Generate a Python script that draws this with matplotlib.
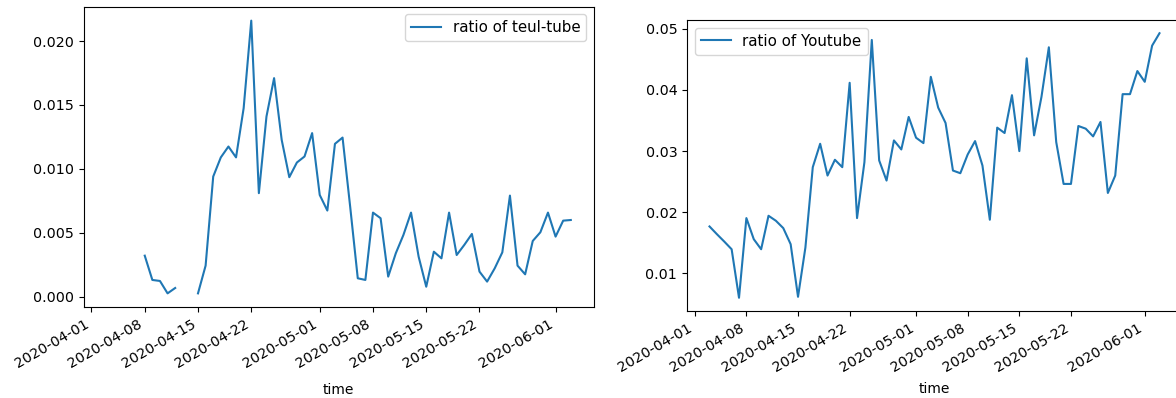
import numpy as np
import pandas as pd
import matplotlib
matplotlib.use("Agg")
import matplotlib.pyplot as plt
import matplotlib.dates as mdates

dates = pd.date_range("2020-04-03", "2020-06-03", freq="D")

teul_tube = [
    np.nan, np.nan, np.nan, np.nan, np.nan,                  # 04-03..04-07
    0.00321, 0.00131, 0.00123, 0.00026, 0.00068,             # 04-08..04-12
    np.nan, np.nan,                                          # 04-13..04-14
    0.00026, 0.00243, 0.0094, 0.0109, 0.01175, 0.0109,       # 04-15..04-20
    0.01475, 0.0216, 0.0081, 0.0141, 0.0171, 0.01227,        # 04-21..04-26
    0.00935, 0.0105, 0.01097, 0.0128, 0.00796, 0.00674,      # 04-27..05-02
    0.01196, 0.01245, 0.00705, 0.00144, 0.00131, 0.00658,    # 05-03..05-08
    0.00614, 0.00157, 0.0034, 0.00483, 0.00658, 0.00313,     # 05-09..05-14
    0.00078, 0.00352, 0.0030, 0.00658, 0.00326, 0.00405,     # 05-15..05-20
    0.00491, 0.00196, 0.00118, 0.00222, 0.00347, 0.00791,    # 05-21..05-26
    0.00243, 0.00175, 0.00436, 0.00504, 0.00658, 0.0047,     # 05-27..06-01
    0.00595, 0.0060,                                         # 06-02..06-03
]

youtube = [
    0.01767, 0.01641, 0.0152, 0.01394, 0.0060, 0.01904,      # 04-03..04-08
    0.01559, 0.01394, 0.01942, 0.0186, 0.0174, 0.01477,      # 04-09..04-14
    0.00616, 0.01422, 0.02737, 0.0312, 0.0260, 0.02858,      # 04-15..04-20
    0.02737, 0.04118, 0.01904, 0.02819, 0.04819, 0.02847,    # 04-21..04-26
    0.02518, 0.03175, 0.03027, 0.03559, 0.03219, 0.03131,    # 04-27..05-02
    0.04216, 0.03712, 0.0346, 0.02682, 0.02638, 0.02945,     # 05-03..05-08
    0.03164, 0.02764, 0.01877, 0.03384, 0.03296, 0.03915,    # 05-09..05-14
    0.0300, 0.04518, 0.03258, 0.03888, 0.04699, 0.03148,     # 05-15..05-20
    0.02463, 0.02463, 0.03411, 0.03367, 0.03241, 0.03477,    # 05-21..05-26
    0.02315, 0.0260, 0.03932, 0.03932, 0.0431, 0.04134,      # 05-27..06-01
    0.04726, 0.04929,                                        # 06-02..06-03
]

tick_labels = ["2020-04-01", "2020-04-08", "2020-04-15", "2020-04-22",
               "2020-05-01", "2020-05-08", "2020-05-15", "2020-05-22", "2020-06-01"]

W, H = 1176, 398
fig = plt.figure(figsize=(W / 100, H / 100), dpi=100)

def box(x0, x1, ytop, ybot):
    return [x0 / W, 1 - ybot / H, (x1 - x0) / W, (ybot - ytop) / H]

ax1 = fig.add_axes(box(83.5, 594, 7, 307))
ax2 = fig.add_axes(box(687, 1182, 20, 311))

tick_dates = pd.to_datetime(tick_labels)
d0 = mdates.date2num(dates[0])
d1 = mdates.date2num(dates[-1])
pad = 0.05 * (d1 - d0)

for ax, vals, label, loc, lpad in [(ax1, teul_tube, "ratio of teul-tube", "upper right", 9),
                                   (ax2, youtube, "ratio of Youtube", "upper left", 5.5)]:
    ax.plot(dates, vals, color="#1f77b4", lw=1.5, label=label)
    ax.set_xlim(d0 - pad, d1 + pad)
    ax.set_xticks(tick_dates)
    ax.xaxis.set_major_formatter(mdates.DateFormatter("%Y-%m-%d"))
    ax.tick_params(labelsize=10.3)
    for t in ax.get_xticklabels():
        t.set_rotation(30)
        t.set_ha("right")
    ax.set_xlabel("time", fontsize=10, labelpad=lpad)
    ax.legend(loc=loc, fontsize=10.8)

ax2.set_yticks([0.01, 0.02, 0.03, 0.04, 0.05])
ax1.set_yticks([0.0, 0.005, 0.01, 0.015, 0.02])
ax1.yaxis.set_major_formatter(matplotlib.ticker.FormatStrFormatter("%.3f"))
ax2.yaxis.set_major_formatter(matplotlib.ticker.FormatStrFormatter("%.2f"))

fig.savefig("out.png", dpi=100)
